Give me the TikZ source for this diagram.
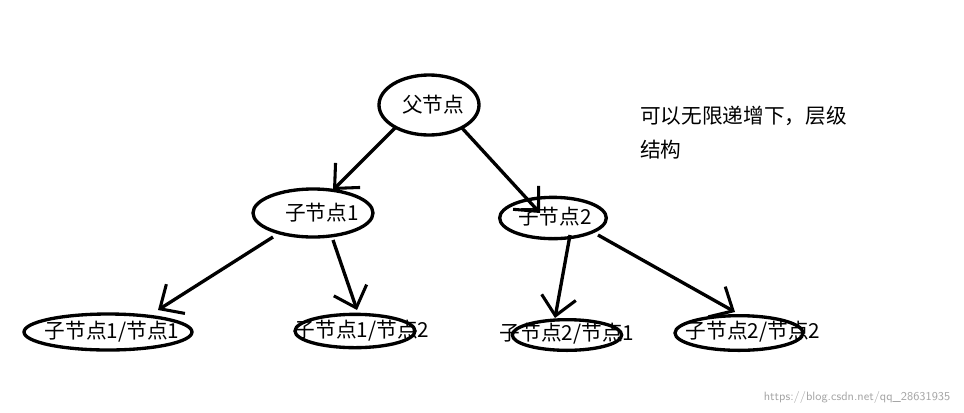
\documentclass[tikz,border=0pt]{standalone}
\usepackage{fontspec}
\setmainfont{Liberation Serif}
\newfontfamily\cjk{Noto Sans CJK SC}
\usetikzlibrary{shapes.geometric,arrows.meta}
\begin{document}
\begin{tikzpicture}[x=0.75pt,y=-0.75pt,
  ell/.style={draw,ellipse,line width=2.5pt,inner sep=0pt},
  lbl/.style={font=\cjk\fontsize{15.5}{17}\selectfont,inner sep=0pt},
  arr/.style={line width=2.5pt,-{Straight Barb[length=14pt,width=26pt,line width=2.3pt]}}]
\useasboundingbox[fill=white] (0,0) rectangle (964,412);
\node[ell,minimum width=75pt,minimum height=45pt] (p) at (429,105) {};
\node[ell,minimum width=90pt,minimum height=36pt] (c1) at (313,213) {};
\node[ell,minimum width=80pt,minimum height=31pt] (c2) at (553,218) {};
\node[ell,minimum width=126pt,minimum height=27pt] (g1) at (108,332) {};
\node[ell,minimum width=90pt,minimum height=25pt] (g2) at (355,331) {};
\node[ell,minimum width=82pt,minimum height=23pt] (g3) at (567,335) {};
\node[ell,minimum width=96pt,minimum height=26pt] (g4) at (739,333) {};
\node[lbl] (tp) at (433,105) {父节点};
\node[lbl] (t1) at (322,213) {子节点1};
\node[lbl] (t2) at (555,217) {子节点2};
\node[lbl] (t3) at (112,332) {子节点1/节点1};
\node[lbl] (t4) at (362,331) {子节点1/节点2};
\node[lbl] (t5) at (567,334) {子节点2/节点1};
\node[lbl] (t6) at (753,332) {子节点2/节点2};
\node[lbl,anchor=west] (n1) at (640,116) {可以无限递增下，层级};
\node[lbl,anchor=west] (n2) at (640,150) {结构};
\node[font=\fontsize{9}{10}\selectfont\sffamily,text=gray!70,anchor=east] (wm) at (955,397) {https://blog.csdn.net/qq\_28631935};
\draw[arr] ([shift={(-34,23)}]p.center) -- ([shift={(20,-23)}]c1.center);
\draw[arr] ([shift={(33,23)}]p.center) -- ([shift={(-13,-5)}]c2.center);
\draw[arr] ([shift={(-40,24)}]c1.center) -- ([shift={(50,-22)}]g1.center);
\draw[arr] ([shift={(20,27)}]c1.center) -- ([shift={(2,-21)}]g2.center);
\draw[arr] ([shift={(17,17)}]c2.center) -- ([shift={(-12,-17)}]g3.center);
\draw[arr] ([shift={(45,17)}]c2.center) -- ([shift={(-4,-21)}]g4.center);
\end{tikzpicture}
\end{document}
